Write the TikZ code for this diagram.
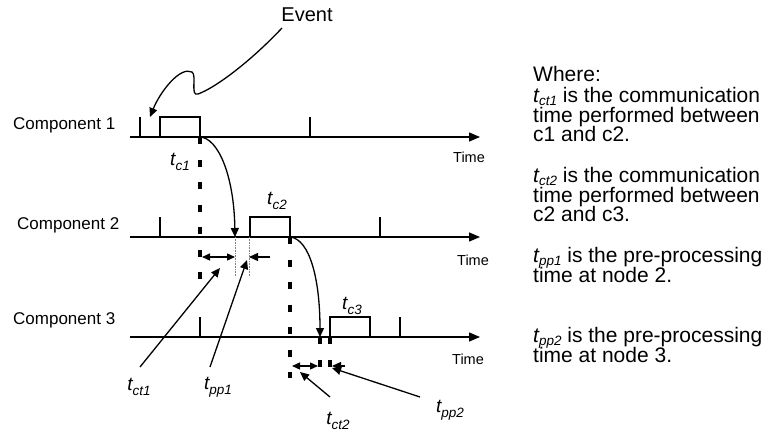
\documentclass[tikz,border=0pt]{standalone}
\usepackage{fontspec}
\setmainfont{Liberation Sans}
\usetikzlibrary{arrows.meta}
\newcommand\tlab[1]{{\fontsize{19}{19}\selectfont\itshape t\raisebox{-5pt}{\fontsize{13.5}{13.5}\selectfont #1}}}
\newcommand\tdef[1]{{\itshape t\raisebox{-3.5pt}{\fontsize{13.5}{13.5}\selectfont #1}}}
\tikzset{
  axisline/.style={line width=1.3pt,-{Triangle[length=11pt,width=9pt]}},
  plain/.style={line width=1.3pt},
  bigdash/.style={line width=3.5pt,dash pattern=on 7pt off 15.5pt},
  guide/.style={gray,line width=0.6pt,densely dotted},
  tipline/.style={line width=1.3pt,-{Triangle[length=9pt,width=8pt]}},
  dimline/.style={line width=1.3pt,{Triangle[length=8pt,width=7pt]}-{Triangle[length=8pt,width=7pt]}},
  complbl/.style={font=\fontsize{17}{17}\selectfont,inner sep=0pt,anchor=west},
  timelbl/.style={font=\fontsize{14.5}{14.5}\selectfont,inner sep=0pt,anchor=west},
  tl/.style={inner sep=0pt},
  deftext/.style={font=\fontsize{21}{21}\selectfont,inner sep=0pt,anchor=base west}
}
\begin{document}
\begin{tikzpicture}[x=1pt,y=-1pt]
\useasboundingbox (0,0) rectangle (764,431);
% component labels
\node[complbl] (comp1) at (13,125) {Component 1};
\node[complbl] (comp2) at (17,225) {Component 2};
\node[complbl] (comp3) at (13,320) {Component 3};
% axes
\coordinate (a1s) at (130,137); \coordinate (a1e) at (480,137);
\coordinate (a2s) at (130,237); \coordinate (a2e) at (480,237);
\coordinate (a3s) at (130,337); \coordinate (a3e) at (480,337);
\draw[axisline] (a1s) -- (a1e);
\draw[axisline] (a2s) -- (a2e);
\draw[axisline] (a3s) -- (a3e);
\node[timelbl] (time1) at (453,157) {Time};
\node[timelbl] (time2) at (457,260) {Time};
\node[timelbl] (time3) at (452,359) {Time};
% ticks and boxes
\draw[plain] (140,137) -- (140,117);
\draw[plain] (160,137) |- (200,117) -- (200,137);
\draw[plain] (310,137) -- (310,117);
\draw[plain] (160,237) -- (160,217);
\draw[plain] (250,237) |- (290,217) -- (290,237);
\draw[plain] (380,237) -- (380,217);
\draw[plain] (200,337) -- (200,317);
\draw[plain] (330,337) |- (370,317) -- (370,337);
\draw[plain] (400,337) -- (400,317);
% duration labels
\node[tl] (tc1) at (180,162) {\tlab{c1}};
\node[tl] (tc2) at (277,201) {\tlab{c2}};
\node[tl] (tc3) at (352,306) {\tlab{c3}};
% dashed lines
\coordinate (d1a) at (200,137); \coordinate (d1b) at (200,280);
\coordinate (d2a) at (290,237); \coordinate (d2b) at (290,378);
\coordinate (d3a) at (320,337); \coordinate (d3b) at (320,367);
\coordinate (d4a) at (330,337); \coordinate (d4b) at (330,367);
\draw[bigdash] (d1a) -- (d1b);
\draw[bigdash] (d2a) -- (d2b);
\draw[bigdash] (d3a) -- (d3b);
\draw[bigdash] (d4a) -- (d4b);
% dotted guides
\coordinate (g1a) at (235,237); \coordinate (g1b) at (235,277);
\coordinate (g2a) at (249,237); \coordinate (g2b) at (249,277);
\draw[guide] (g1a) -- (g1b);
\draw[guide] (g2a) -- (g2b);
% message curves
\draw[tipline] (d1a) .. controls (218,138) and (234,175) .. (g1a);
\draw[tipline] (d2a) .. controls (310,239) and (320,280) .. (d3a);
% dimension arrows
\coordinate (m1l) at (202,257); \coordinate (m1r) at (235,257);
\coordinate (m2t) at (270,257); \coordinate (m2h) at (249,257);
\coordinate (m3l) at (292,366); \coordinate (m3r) at (318,366);
\coordinate (m4t) at (345,366); \coordinate (m4h) at (332,366);
\draw[dimline] (m1l) -- (m1r);
\draw[tipline] (m2t) -- (m2h);
\draw[dimline] (m3l) -- (m3r);
\draw[tipline] (m4t) -- (m4h);
% pointer labels
\node[tl] (lct1) at (139,387) {\tlab{ct1}};
\node[tl] (lpp1) at (218,387) {\tlab{pp1}};
\node[tl] (lct2) at (338,421) {\tlab{ct2}};
\node[tl] (lpp2) at (450,410) {\tlab{pp2}};
\coordinate (p1t) at (140,367); \coordinate (p1h) at (220,268);
\coordinate (p2t) at (210,367); \coordinate (p2h) at (247,260);
\coordinate (p3t) at (330,397); \coordinate (p3h) at (300,372);
\coordinate (p4t) at (420,397); \coordinate (p4h) at (332,368);
\draw[tipline] (p1t) -- (p1h);
\draw[tipline] (p2t) -- (p2h);
\draw[tipline] (p3t) -- (p3h);
\draw[tipline] (p4t) -- (p4h);
% event
\node[inner sep=0pt,font=\fontsize{20}{20}\selectfont] (ev) at (307,15) {Event};
\coordinate (evs) at (282,28); \coordinate (evh) at (150,117);
\draw[tipline] (evs) .. controls (250,62) and (215,88) .. (198,94)
  .. controls (190,97) and (197,75) .. (192,72)
  .. controls (180,66) and (160,92) .. (evh);
% explanation text
\node[deftext] (w0) at (533,81) {Where:};
\node[deftext] (w1) at (533,102) {\tdef{ct1} is the communication};
\node[deftext] (w2) at (533,122) {time performed between};
\node[deftext] (w3) at (533,141) {c1 and c2.};
\node[deftext] (w4) at (533,182) {\tdef{ct2} is the communication};
\node[deftext] (w5) at (533,202) {time performed between};
\node[deftext] (w6) at (533,221) {c2 and c3.};
\node[deftext] (w7) at (533,262) {\tdef{pp1} is the pre-processing};
\node[deftext] (w8) at (533,282) {time at node 2.};
\node[deftext] (w9) at (533,342) {\tdef{pp2} is the pre-processing};
\node[deftext] (w10) at (533,362) {time at node 3.};
\end{tikzpicture}
\end{document}
